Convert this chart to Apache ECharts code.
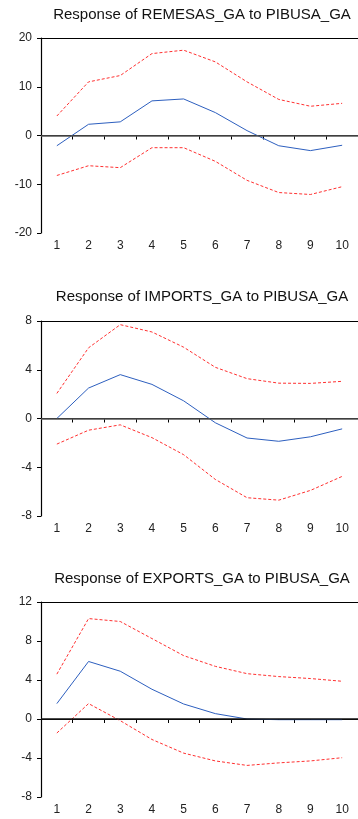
<!DOCTYPE html>
<html>
<head>
<meta charset="utf-8">
<script src="https://cdn.jsdelivr.net/npm/echarts@6/dist/echarts.min.js"></script>
<style>
html,body{margin:0;padding:0;background:#fff;}
#c{width:358px;height:819px;}
</style>
</head>
<body>
<div id="c"></div>
<script>
const periods = ['1','2','3','4','5','6','7','8','9','10'];

const titles = [
  'Response of REMESAS_GA to PIBUSA_GA',
  'Response of IMPORTS_GA to PIBUSA_GA',
  'Response of EXPORTS_GA to PIBUSA_GA'
];

const remesasResp  = [-2.1, 2.3, 2.8, 7.1, 7.5, 4.7, 1.0, -2.1, -3.1, -2.0];
const remesasUpper = [4.0, 11.0, 12.3, 16.8, 17.5, 15.1, 11.0, 7.4, 6.0, 6.6];
const remesasLower = [-8.2, -6.2, -6.6, -2.5, -2.5, -5.3, -9.2, -11.7, -12.1, -10.5];

const importsResp  = [0.0, 2.5, 3.6, 2.8, 1.45, -0.35, -1.6, -1.87, -1.5, -0.85];
const importsUpper = [2.06, 5.8, 7.7, 7.1, 5.85, 4.2, 3.27, 2.9, 2.88, 3.05];
const importsLower = [-2.1, -0.96, -0.52, -1.57, -2.97, -5.0, -6.5, -6.7, -5.9, -4.75];

const exportsResp  = [1.58, 5.9, 4.9, 3.05, 1.54, 0.55, 0.0, -0.07, -0.07, -0.07];
const exportsUpper = [4.6, 10.3, 10.0, 8.25, 6.5, 5.4, 4.65, 4.35, 4.15, 3.87];
const exportsLower = [-1.44, 1.58, -0.17, -2.1, -3.5, -4.3, -4.76, -4.5, -4.3, -3.97];

const yMins = [-20, -8, -8];
const yMaxs = [20, 8, 12];
const yIntervals = [10, 4, 4];

const panels = [
  [remesasResp, remesasUpper, remesasLower],
  [importsResp, importsUpper, importsLower],
  [exportsResp, exportsUpper, exportsLower]
];

const gridTops = [38, 321, 602];
const titleTops = [2, 284, 566];
const zeroColors = ['#555', '#555', '#111'];
const FONT = '"Liberation Sans", Arial, sans-serif';

const chart = echarts.init(document.getElementById('c'), null, {renderer: 'canvas'});

const option = {
  backgroundColor: '#fff',
  animation: false,
  title: titles.map((t, i) => ({
    text: t,
    left: 197,
    textAlign: 'center',
    top: titleTops[i],
    textStyle: {fontFamily: FONT, fontSize: 15, fontWeight: 'normal', color: '#111'}
  })),
  grid: gridTops.map(t => ({left: 41, top: t, width: 322, height: 195, containLabel: false})),
  xAxis: gridTops.map((t, i) => ({
    type: 'category',
    gridIndex: i,
    data: periods,
    boundaryGap: true,
    axisLine: {show: true, lineStyle: {color: '#000', width: 1.2}},
    axisTick: {show: true, inside: false, length: 4, lineStyle: {color: '#000'}},
    axisLabel: {fontFamily: FONT, fontSize: 12, color: '#222', margin: 7},
    splitLine: {show: false}
  })).concat(gridTops.map((t, i) => ({
    type: 'category',
    gridIndex: i,
    position: 'top',
    data: periods,
    axisLine: {show: true, lineStyle: {color: '#000', width: 1.2}},
    axisTick: {show: false},
    axisLabel: {show: false}
  }))),
  yAxis: gridTops.map((t, i) => ({
    type: 'value',
    gridIndex: i,
    min: yMins[i],
    max: yMaxs[i],
    interval: yIntervals[i],
    axisLine: {show: true, lineStyle: {color: '#000', width: 1.2}},
    axisTick: {show: true, length: 4, lineStyle: {color: '#000'}},
    axisLabel: {fontFamily: FONT, fontSize: 12, color: '#222', margin: 9},
    splitLine: {show: false}
  })),
  series: []
};

panels.forEach((p, i) => {
  option.series.push({
    type: 'line', xAxisIndex: i, yAxisIndex: i, data: p[0],
    symbol: 'none', lineStyle: {color: '#2d5fbf', width: 1},
    z: 4,
    markLine: {
      silent: true, symbol: 'none', label: {show: false},
      lineStyle: {color: zeroColors[i], width: 1.5, type: 'solid'},
      data: [{yAxis: 0}]
    }
  });
  option.series.push({
    type: 'line', xAxisIndex: i, yAxisIndex: i, data: p[1],
    symbol: 'none', lineStyle: {color: '#ff3030', width: 1, type: [3, 2]}
  });
  option.series.push({
    type: 'line', xAxisIndex: i, yAxisIndex: i, data: p[2],
    symbol: 'none', lineStyle: {color: '#ff3030', width: 1, type: [3, 2]}
  });
});

chart.setOption(option);
</script>
</body>
</html>
